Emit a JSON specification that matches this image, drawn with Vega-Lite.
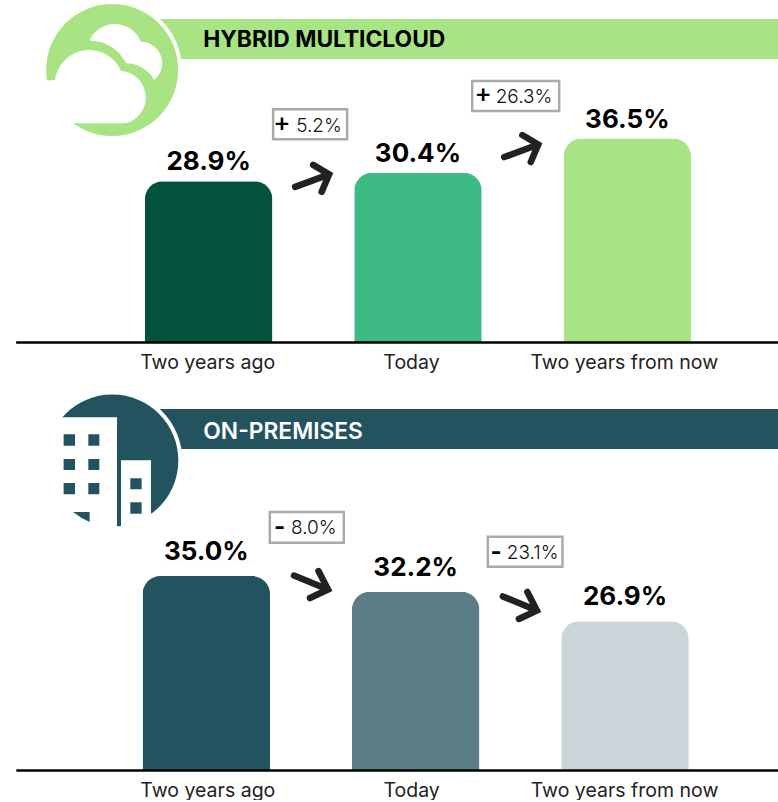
{"$schema":"https://vega.github.io/schema/vega-lite/v6.json","padding":0,"spacing":47,"bounds":"flush","resolve":{"scale":{"color":"independent"}},"config":{"view":{"stroke":null},"text":{"font":"Inter"}},
"vconcat":[
{"width":778,"height":343,
"data":{"values":[{"panel":"HYBRID MULTICLOUD","category":"Two years ago","share":28.9,"label":"28.9%","sign":"+","change":"5.2%"},{"panel":"HYBRID MULTICLOUD","category":"Today","share":30.4,"label":"30.4%","sign":"+","change":"26.3%"},{"panel":"HYBRID MULTICLOUD","category":"Two years from now","share":36.5,"label":"36.5%"}]},
"encoding":{"x":{"field":"category","type":"nominal","title":null,"scale":{"type":"band","domain":["Two years ago","Today","Two years from now"],"paddingInner":0.391,"paddingOuter":0.5537,"align":0.625},"axis":{"labelAngle":0,"domain":false,"ticks":false,"labelFont":"Inter","labelFontSize":19.5,"labelColor":"#222222","labelPadding":10,"labelLimit":300,"labelOverlap":false,"labelOffset":{"expr":"datum.value==='Today'?-6.5:(datum.value==='Two years ago'?-1:-3)"}}},"y":{"field":"share","type":"quantitative","title":null,"axis":null,"scale":{"domain":[0,61.25]}}},
"layer":[
{"mark":{"type":"bar","cornerRadiusTopLeft":18,"cornerRadiusTopRight":18},"encoding":{"color":{"field":"category","legend":null,"scale":{"domain":["Two years ago","Today","Two years from now"],"range":["#03533c","#3eba84","#a8e484"]}}}},
{"mark":{"type":"text","fontSize":26,"fontWeight":700,"font":"Inter","baseline":"alphabetic","dy":-11,"color":"#000000"},"encoding":{"text":{"field":"label"}}},
{"transform":[{"filter":"datum.category==='Two years ago'"}],"encoding":{"y":{"datum":61.25,"type":"quantitative"}},"layer":[
{"mark":{"type":"point","filled":true,"opacity":1,"size":4,"strokeWidth":0,"fill":"#a8e484","xOffset":-96.5,"yOffset":70,"shape":"M0,-51 L666,-51 L666,-11 L0,-11 Z"}},
{"mark":{"type":"point","filled":true,"opacity":1,"size":4,"strokeWidth":0,"fill":"#ffffff","xOffset":-96.5,"yOffset":70,"shape":"M-70,0 A70,70 0 1 1 70,0 A70,70 0 1 1 -70,0 Z"}},
{"mark":{"type":"point","filled":true,"opacity":1,"size":4,"strokeWidth":0,"fill":"#a8e484","xOffset":-96.5,"yOffset":70,"shape":"M-66,0 A66,66 0 1 1 66,0 A66,66 0 1 1 -66,0 Z"}},
{"mark":{"type":"point","filled":true,"opacity":1,"size":4,"strokeWidth":0,"fill":"#ffffff","xOffset":-96.5,"yOffset":70,"shape":"M-75,11 L-57,10 A34.5,34.5 0 0 1 9,1 A26.5,26.5 0 0 1 13,53.3 L-75,53.3 Z M-22.7,-29.3 A27.8,27.8 0 0 1 28.7,-28.3 A21.5,21.5 0 0 1 42,10 A32,32 0 0 0 14,-6.7 A40,40 0 0 0 -22.7,-29.3 Z"}},
{"mark":{"type":"text","font":"Inter","fontSize":22.8,"fontWeight":700,"align":"left","baseline":"alphabetic","color":"#000000","xOffset":-5.5,"yOffset":47},"encoding":{"text":{"field":"panel"}}}
]},
{"transform":[{"filter":"datum.category==='Two years ago'"}],"encoding":{"y":{"datum":0,"type":"quantitative"}},"mark":{"type":"point","filled":false,"opacity":1,"size":4,"strokeWidth":2.5,"stroke":"#000000","yOffset":-0.5,"shape":"M-192.5,0 L569.5,0"}},
{"transform":[{"filter":"datum.category==='Two years ago'"}],"layer":[
{"mark":{"type":"point","filled":false,"opacity":1,"size":4,"strokeWidth":6.5,"stroke":"#222222","strokeCap":"round","xOffset":125.5,"yOffset":-8.3,"shape":"M-39,14 L-5,1.5 M-21,-8 L-5,1.5 L-12.5,19"}},
{"mark":{"type":"point","filled":true,"opacity":1,"size":4,"strokeWidth":2.5,"stroke":"#aaaaaa","fill":"#ffffff","xOffset":101.5,"yOffset":-57,"shape":"M-37,-15 L37,-15 L37,15 L-37,15 Z"}},
{"mark":{"type":"text","font":"Inter","fontSize":26,"fontWeight":500,"align":"center","baseline":"middle","color":"#000000","xOffset":73.2,"yOffset":-58.2},"encoding":{"text":{"field":"sign"}}},
{"mark":{"type":"text","font":"Inter","fontSize":19,"fontWeight":300,"align":"left","baseline":"alphabetic","color":"#111111","xOffset":87.5,"yOffset":-48.9},"encoding":{"text":{"field":"change"}}}
]},
{"transform":[{"filter":"datum.category==='Today'"}],"layer":[
{"mark":{"type":"point","filled":false,"opacity":1,"size":4,"strokeWidth":6.5,"stroke":"#222222","strokeCap":"round","xOffset":125.3,"yOffset":-29.7,"shape":"M-39,14 L-5,1.5 M-21,-8 L-5,1.5 L-12.5,19"}},
{"mark":{"type":"point","filled":true,"opacity":1,"size":4,"strokeWidth":2.5,"stroke":"#aaaaaa","fill":"#ffffff","xOffset":97.7,"yOffset":-76.8,"shape":"M-43.5,-15 L43.5,-15 L43.5,15 L-43.5,15 Z"}},
{"mark":{"type":"text","font":"Inter","fontSize":26,"fontWeight":500,"align":"center","baseline":"middle","color":"#000000","xOffset":65.3,"yOffset":-78.5},"encoding":{"text":{"field":"sign"}}},
{"mark":{"type":"text","font":"Inter","fontSize":19,"fontWeight":300,"align":"left","baseline":"alphabetic","color":"#111111","xOffset":77.7,"yOffset":-69.5},"encoding":{"text":{"field":"change"}}}
]}
]},
{"width":778,"height":381,
"data":{"values":[{"panel":"ON-PREMISES","category":"Two years ago","share":35.0,"label":"35.0%","sign":"-","change":"8.0%"},{"panel":"ON-PREMISES","category":"Today","share":32.2,"label":"32.2%","sign":"-","change":"23.1%"},{"panel":"ON-PREMISES","category":"Two years from now","share":26.9,"label":"26.9%"}]},
"encoding":{"x":{"field":"category","type":"nominal","title":null,"scale":{"type":"band","domain":["Two years ago","Today","Two years from now"],"paddingInner":0.391,"paddingOuter":0.5537,"align":0.615},"axis":{"labelAngle":0,"domain":false,"ticks":false,"labelFont":"Inter","labelFontSize":19.5,"labelColor":"#222222","labelPadding":10,"labelLimit":300,"labelOverlap":false,"labelOffset":{"expr":"datum.value==='Today'?-4:(datum.value==='Two years ago'?1.5:-0.5)"}}},"y":{"field":"share","type":"quantitative","title":null,"axis":null,"scale":{"domain":[0,68.4]}}},
"layer":[
{"mark":{"type":"bar","cornerRadiusTopLeft":18,"cornerRadiusTopRight":18},"encoding":{"color":{"field":"category","legend":null,"scale":{"domain":["Two years ago","Today","Two years from now"],"range":["#22535f","#5a7d86","#c9d5d9"]}}}},
{"mark":{"type":"text","fontSize":26,"fontWeight":700,"font":"Inter","baseline":"alphabetic","dy":-16,"color":"#000000"},"encoding":{"text":{"field":"label"}}},
{"transform":[{"filter":"datum.category==='Two years ago'"}],"encoding":{"y":{"datum":68.4,"type":"quantitative"}},"layer":[
{"mark":{"type":"point","filled":true,"opacity":1,"size":4,"strokeWidth":0,"fill":"#22535f","xOffset":-94,"yOffset":70.5,"shape":"M0,-51.5 L666,-51.5 L666,-11.5 L0,-11.5 Z"}},
{"mark":{"type":"point","filled":true,"opacity":1,"size":4,"strokeWidth":0,"fill":"#ffffff","xOffset":-94,"yOffset":70.5,"shape":"M-70,0 A70,70 0 1 1 70,0 A70,70 0 1 1 -70,0 Z"}},
{"mark":{"type":"point","filled":true,"opacity":1,"size":4,"strokeWidth":0,"fill":"#22535f","xOffset":-94,"yOffset":70.5,"shape":"M-66,0 A66,66 0 1 1 66,0 A66,66 0 1 1 -66,0 Z"}},
{"mark":{"type":"point","filled":true,"opacity":1,"size":4,"strokeWidth":0,"fill":"#ffffff","xOffset":-94,"yOffset":70.5,"shape":"M-72,-43.2 L4.7,-43.2 L4.7,67 L-72,67 Z M8.7,-0.2 L38.7,-0.2 L38.7,67 L8.7,67 Z"}},
{"mark":{"type":"point","filled":true,"opacity":1,"size":4,"strokeWidth":0,"fill":"#22535f","xOffset":-94,"yOffset":70.5,"shape":"M-48.7,-26.2 L-37.3,-26.2 L-37.3,-14.8 L-48.7,-14.8 Z M-24,-26.2 L-13,-26.2 L-13,-14.8 L-24,-14.8 Z M-48.7,-1.5 L-37.3,-1.5 L-37.3,9.5 L-48.7,9.5 Z M-24,-1.5 L-13,-1.5 L-13,9.5 L-24,9.5 Z M-48.7,22.5 L-37.3,22.5 L-37.3,33.8 L-48.7,33.8 Z M-24,22.5 L-13,22.5 L-13,33.8 L-24,33.8 Z M18,17.8 L29.3,17.8 L29.3,28.8 L18,28.8 Z M18,41.8 L29.3,41.8 L29.3,53.2 L18,53.2 Z M-39.3,51.5 L-22.7,51.5 L-22.7,61.4 Q-31,58 -39.3,51.5 Z"}},
{"mark":{"type":"text","font":"Inter","fontSize":22.8,"fontWeight":600,"align":"left","baseline":"alphabetic","color":"#ffffff","xOffset":-3,"yOffset":48.5},"encoding":{"text":{"field":"panel"}}}
]},
{"transform":[{"filter":"datum.category==='Two years ago'"}],"encoding":{"y":{"datum":0,"type":"quantitative"}},"mark":{"type":"point","filled":false,"opacity":1,"size":4,"strokeWidth":2.5,"stroke":"#000000","yOffset":-0.5,"shape":"M-190,0 L572,0"}},
{"transform":[{"filter":"datum.category==='Two years ago'"}],"layer":[
{"mark":{"type":"point","filled":false,"opacity":1,"size":4,"strokeWidth":6.5,"stroke":"#222222","strokeCap":"round","xOffset":126.7,"yOffset":15,"shape":"M-39,-15.5 L-5,-1.5 M-14.5,-20 L-5,-1.5 L-23,7"}},
{"mark":{"type":"point","filled":true,"opacity":1,"size":4,"strokeWidth":2.5,"stroke":"#aaaaaa","fill":"#ffffff","xOffset":100.5,"yOffset":-48.7,"shape":"M-37,-15.3 L37,-15.3 L37,15.3 L-37,15.3 Z"}},
{"mark":{"type":"text","font":"Inter","fontSize":24,"fontWeight":700,"align":"center","baseline":"middle","color":"#000000","xOffset":73.3,"yOffset":-48.3},"encoding":{"text":{"field":"sign"}}},
{"mark":{"type":"text","font":"Inter","fontSize":19,"fontWeight":300,"align":"left","baseline":"alphabetic","color":"#111111","xOffset":84.7,"yOffset":-41.7},"encoding":{"text":{"field":"change"}}}
]},
{"transform":[{"filter":"datum.category==='Today'"}],"layer":[
{"mark":{"type":"point","filled":false,"opacity":1,"size":4,"strokeWidth":6.5,"stroke":"#222222","strokeCap":"round","xOffset":126.2,"yOffset":20.3,"shape":"M-39,-15.5 L-5,-1.5 M-14.5,-20 L-5,-1.5 L-23,7"}},
{"mark":{"type":"point","filled":true,"opacity":1,"size":4,"strokeWidth":2.5,"stroke":"#aaaaaa","fill":"#ffffff","xOffset":109.5,"yOffset":-39.9,"shape":"M-37.3,-15 L37.3,-15 L37.3,15 L-37.3,15 Z"}},
{"mark":{"type":"text","font":"Inter","fontSize":24,"fontWeight":700,"align":"center","baseline":"middle","color":"#000000","xOffset":80.5,"yOffset":-38.9},"encoding":{"text":{"field":"sign"}}},
{"mark":{"type":"text","font":"Inter","fontSize":19,"fontWeight":300,"align":"left","baseline":"alphabetic","color":"#111111","xOffset":91.2,"yOffset":-32.3},"encoding":{"text":{"field":"change"}}}
]}
]}
]}
